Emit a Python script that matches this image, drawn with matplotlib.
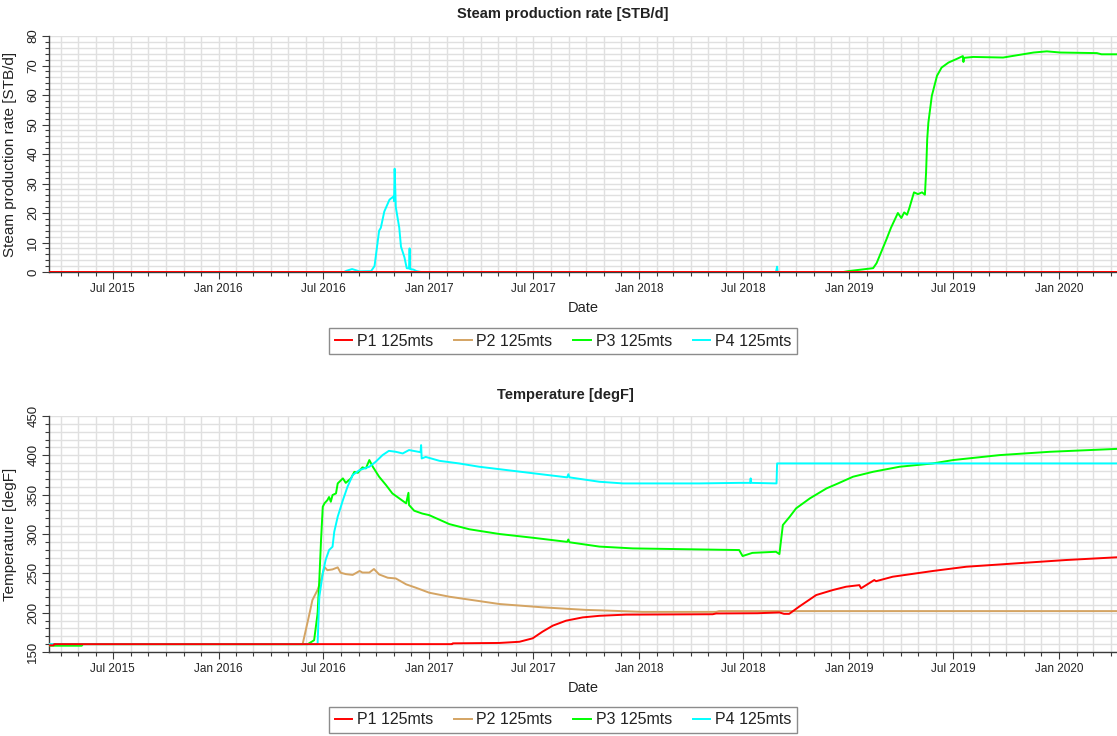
import matplotlib
matplotlib.use('Agg')
import matplotlib.pyplot as plt
import matplotlib.dates as mdates
from matplotlib.ticker import MultipleLocator
from matplotlib.lines import Line2D
import pandas as pd

plt.rcParams['font.family'] = ['Liberation Sans', 'DejaVu Sans']

# ---------------- data ----------------
series_names = ['P1 125mts', 'P2 125mts', 'P3 125mts', 'P4 125mts']
series_colors = ['#ff0000', '#d4a463', '#00ff00', '#00ffff']

x_start = '2015-03-12'
x_end = '2020-04-11'

# Steam production rate [STB/d]
rate_p1_dates = ['2015-03-12', '2020-04-11']
rate_p1_values = [0, 0]
rate_p2_dates = ['2015-03-12', '2020-04-11']
rate_p2_values = [0, 0]
rate_p3_dates = ['2015-03-12', '2018-12-22', '2018-12-31', '2019-02-12', '2019-02-18', '2019-03-07',
                 '2019-03-15', '2019-03-27', '2019-04-02', '2019-04-07', '2019-04-12',
                 '2019-04-16', '2019-04-24', '2019-05-01', '2019-05-08', '2019-05-13',
                 '2019-05-15', '2019-05-17', '2019-05-19', '2019-05-25', '2019-06-03',
                 '2019-06-11', '2019-06-23', '2019-07-07', '2019-07-18', '2019-07-19',
                 '2019-07-20', '2019-08-05', '2019-09-26', '2019-11-18', '2019-12-11',
                 '2020-01-03', '2020-03-07', '2020-03-15', '2020-04-11']
rate_p3_values = [0, 0, 0.3, 1.3, 3, 11,
                  15, 20, 18.3, 20.2, 19.4,
                  21.7, 27, 26.4, 27, 26.2,
                  33.6, 45, 50.6, 59.7, 66.5,
                  69.3, 71, 72.2, 73.2, 71.2,
                  72.6, 72.9, 72.7, 74.4, 74.8,
                  74.4, 74.2, 73.8, 73.8]
rate_p4_dates = ['2015-03-12', '2016-08-06', '2016-08-10', '2016-08-20', '2016-09-02', '2016-09-22',
                 '2016-09-28', '2016-10-06', '2016-10-09', '2016-10-15', '2016-10-24',
                 '2016-10-31', '2016-11-01', '2016-11-02', '2016-11-04', '2016-11-10',
                 '2016-11-13', '2016-11-19', '2016-11-23', '2016-11-27', '2016-11-28',
                 '2016-11-29', '2016-12-05', '2016-12-10', '2016-12-18', '2018-08-27',
                 '2018-08-29', '2018-08-30', '2020-04-11']
rate_p4_values = [0, 0, 0.4, 1.0, 0.2, 0.3,
                  2, 14, 15, 20.5, 24.5,
                  25.6, 24, 35, 22, 15,
                  8.6, 5, 1.3, 1.2, 8,
                  1, 0.8, 0.3, 0, 0,
                  1.8, 0, 0]

# Temperature [degF]
temp_p1_dates = ['2015-03-12', '2015-03-20', '2015-03-21', '2017-02-10', '2017-02-11',
                 '2017-05-03', '2017-06-07', '2017-06-30', '2017-07-17', '2017-08-04',
                 '2017-08-27', '2017-09-25', '2017-10-24', '2017-12-09', '2018-05-09',
                 '2018-05-15', '2018-07-26', '2018-09-02', '2018-09-10', '2018-09-19',
                 '2018-10-07', '2018-11-05', '2018-12-04', '2018-12-27', '2019-01-19',
                 '2019-01-22', '2019-02-14', '2019-02-17', '2019-03-18', '2019-05-27',
                 '2019-07-24', '2019-10-19', '2020-01-13', '2020-04-11']
temp_p1_values = [158.5, 158.5, 160, 160, 161,
                  161.5, 163, 167.4, 175.8, 183.5,
                  189.8, 194, 196, 197.5, 198,
                  199, 199.3, 200.3, 198.5, 198.5,
                  208, 222.4, 228.8, 233, 235,
                  231, 241.5, 240, 245.7, 253,
                  258.4, 262.7, 266.9, 270.4]
temp_p2_dates = ['2015-03-12', '2016-05-26', '2016-06-07', '2016-06-12', '2016-06-21',
                 '2016-06-27', '2016-07-03', '2016-07-08', '2016-07-17', '2016-07-26',
                 '2016-07-31', '2016-08-09', '2016-08-21', '2016-09-02', '2016-09-07',
                 '2016-09-19', '2016-09-27', '2016-10-06', '2016-10-21', '2016-11-04',
                 '2016-11-22', '2016-12-09', '2017-01-01', '2017-02-05', '2017-05-03',
                 '2017-07-17', '2017-08-27', '2017-10-01', '2017-10-24', '2018-01-07',
                 '2018-05-15', '2018-05-20', '2020-04-11']
temp_p2_values = [160, 160, 199, 216, 229,
                  241.5, 258, 254, 255, 257.6,
                  250.8, 249, 248, 253, 251,
                  251, 255.5, 248.6, 244.4, 243.5,
                  236, 231.7, 225.4, 220.3, 211,
                  206.8, 205, 203.5, 203, 201,
                  201, 202, 202]
temp_p3_dates = ['2015-03-12', '2015-05-08', '2015-05-10', '2016-06-04', '2016-06-15',
                 '2016-06-21', '2016-06-24', '2016-06-27', '2016-06-30', '2016-07-03',
                 '2016-07-08', '2016-07-11', '2016-07-14', '2016-07-17', '2016-07-23',
                 '2016-07-26', '2016-08-04', '2016-08-09', '2016-08-18', '2016-08-24',
                 '2016-08-30', '2016-09-07', '2016-09-13', '2016-09-19', '2016-09-25',
                 '2016-10-06', '2016-10-18', '2016-10-29', '2016-11-10', '2016-11-22',
                 '2016-11-26', '2016-11-27', '2016-12-06', '2016-12-20', '2017-01-01',
                 '2017-02-05', '2017-03-12', '2017-05-03', '2017-07-03', '2017-08-29',
                 '2017-08-31', '2017-09-02', '2017-10-24', '2017-12-21', '2018-06-24',
                 '2018-06-30', '2018-07-17', '2018-08-27', '2018-09-02', '2018-09-08',
                 '2018-09-20', '2018-10-01', '2018-10-25', '2018-11-23', '2018-12-13',
                 '2019-01-08', '2019-02-12', '2019-03-30', '2019-05-27', '2019-07-01',
                 '2019-09-20', '2019-12-16', '2020-04-11']
temp_p3_values = [158, 158, 160, 160, 165,
                  199, 241.5, 292, 334.6, 339,
                  343, 347, 341, 349.5, 351.6,
                  364.3, 370.7, 365, 370.7, 379,
                  377.8, 384.7, 383.4, 394, 385.5,
                  372.8, 362.2, 351.6, 345.3, 339,
                  352.4, 336.8, 329.6, 326, 324,
                  312.6, 306, 300, 295, 290,
                  293, 289.5, 284, 281.7, 279.6,
                  272, 276, 277.4, 274.5, 311.4,
                  322, 332.6, 345.3, 358, 364.3,
                  372.8, 379.1, 385.5, 389.7, 394,
                  400.3, 404.5, 408.2]
temp_p4_dates = ['2015-03-12', '2016-06-21', '2016-06-24', '2016-06-30', '2016-07-05',
                 '2016-07-11', '2016-07-17', '2016-07-20', '2016-07-26', '2016-08-04',
                 '2016-08-12', '2016-08-21', '2016-09-02', '2016-09-19', '2016-09-30',
                 '2016-10-12', '2016-10-23', '2016-11-04', '2016-11-16', '2016-11-27',
                 '2016-12-17', '2016-12-18', '2016-12-19', '2016-12-26', '2017-01-19',
                 '2017-02-22', '2017-03-29', '2017-07-03', '2017-08-29', '2017-08-31',
                 '2017-09-02', '2017-10-24', '2017-12-04', '2018-04-16', '2018-06-24',
                 '2018-07-13', '2018-07-14', '2018-07-15', '2018-08-28', '2018-08-29',
                 '2020-04-11']
temp_p4_values = [160, 160, 220, 250, 267,
                  279.6, 283.8, 302.9, 322, 343,
                  360, 374.9, 381.3, 385.5, 391.8,
                  400.3, 405.7, 404.5, 402.4, 406.7,
                  404, 413, 396, 398, 393,
                  389.7, 385.5, 377, 372, 376,
                  372, 366.4, 364.3, 364.3, 365,
                  365, 370.7, 365, 364.3, 389.7,
                  389.7]

rate_dates = [rate_p1_dates, rate_p2_dates, rate_p3_dates, rate_p4_dates]
rate_values = [rate_p1_values, rate_p2_values, rate_p3_values, rate_p4_values]
temp_dates = [temp_p1_dates, temp_p2_dates, temp_p3_dates, temp_p4_dates]
temp_values = [temp_p1_values, temp_p2_values, temp_p3_values, temp_p4_values]

# ---------------- figure ----------------
W, H = 1117, 736
fig = plt.figure(figsize=(W / 100, H / 100), dpi=100)

def fx(px):
    return px / W

def fy(py):
    return 1 - py / H

ax_left, ax_right = 49, 1117
ax1 = fig.add_axes([fx(ax_left), fy(272), fx(ax_right - ax_left), (272 - 36) / H])
ax2 = fig.add_axes([fx(ax_left), fy(652), fx(ax_right - ax_left), (652 - 416) / H])

grid_color = '#e0e0e0'
spine_color = '#3a3a3a'
text_color = '#222222'


def style_axes(ax, ymin, ymax, ymajor, yminor, ylabel):
    ax.set_xlim(pd.Timestamp(x_start), pd.Timestamp(x_end))
    ax.set_ylim(ymin, ymax)
    ax.xaxis.set_major_locator(mdates.MonthLocator(bymonth=[1, 7]))
    ax.xaxis.set_major_formatter(mdates.DateFormatter('%b %Y'))
    ax.xaxis.set_minor_locator(mdates.MonthLocator())
    ax.yaxis.set_major_locator(MultipleLocator(ymajor))
    ax.yaxis.set_minor_locator(MultipleLocator(yminor))
    ax.grid(True, which='both', color=grid_color, linewidth=1.0, zorder=0)
    ax.set_axisbelow(True)
    for s in ['top', 'right']:
        ax.spines[s].set_visible(False)
    for s in ['left', 'bottom']:
        ax.spines[s].set_color(spine_color)
        ax.spines[s].set_linewidth(1.0)
    ax.tick_params(axis='both', which='major', length=5, width=0.8, color=spine_color,
                   labelsize=8.5, labelcolor=text_color, pad=3)
    ax.tick_params(axis='both', which='minor', length=3, width=0.8, color=spine_color)
    ax.tick_params(axis='y', which='major', labelrotation=90, labelsize=9.5, pad=2)
    for lbl in ax.get_yticklabels():
        lbl.set_va('center')
    ax.set_xlabel('Date', fontsize=10.5, color=text_color, labelpad=4)
    ax.set_ylabel(ylabel, fontsize=11, color=text_color)
    ax.yaxis.set_label_coords((17 - ax_left) / (ax_right - ax_left), 0.5)


style_axes(ax1, 0, 80, 10, 2, 'Steam production rate [STB/d]')
style_axes(ax2, 150, 450, 50, 10, 'Temperature [degF]')

# draw order: in the rate chart the zero baseline shows P1/P2 on top
for i in [2, 3, 1, 0]:
    ax1.plot(pd.to_datetime(rate_dates[i]), rate_values[i], color=series_colors[i],
             linewidth=1.4, zorder=3 + [3, 2, 0, 1][i])

for i in [1, 2, 3, 0]:
    ax2.plot(pd.to_datetime(temp_dates[i]), temp_values[i], color=series_colors[i],
             linewidth=1.4, zorder=3 + [3, 0, 1, 2][i])

fig.text(fx(563), fy(14), 'Steam production rate [STB/d]', ha='center', va='center',
         fontsize=10.5, fontweight='bold', color=text_color)
fig.text(fx(565), fy(395), 'Temperature [degF]', ha='center', va='center',
         fontsize=10.5, fontweight='bold', color=text_color)

handles = [Line2D([0], [0], color=c, linewidth=1.4) for c in series_colors]
for ycen in (341, 720):
    leg = fig.legend(handles, series_names, loc='center', ncol=4,
                     bbox_to_anchor=(fx(563), fy(ycen)), fontsize=11.5,
                     frameon=True, fancybox=False, shadow=False,
                     handlelength=1.1, handletextpad=0.3, columnspacing=1.3,
                     borderpad=0.35, borderaxespad=0)
    leg.get_frame().set_edgecolor('#707070')
    leg.get_frame().set_linewidth(1.0)
    for t in leg.get_texts():
        t.set_color(text_color)

fig.savefig('out.png', dpi=100)
